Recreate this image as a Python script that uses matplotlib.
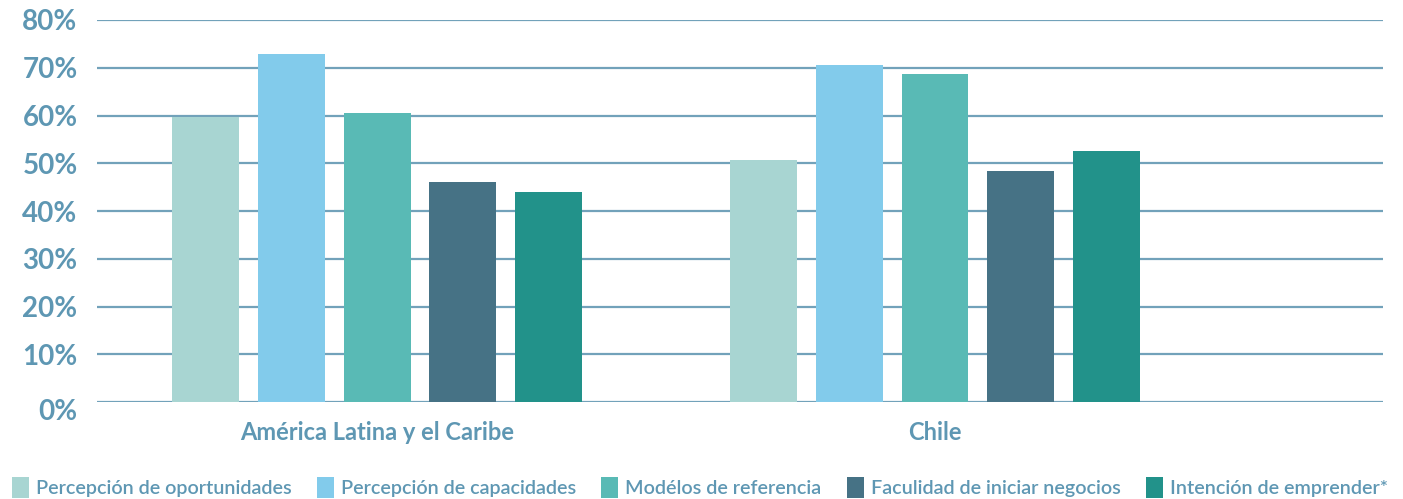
import matplotlib.pyplot as plt
import matplotlib.transforms as mtransforms
from matplotlib.patches import Patch
import numpy as np

regions = ['América Latina y el Caribe', 'Chile']
series = ['Percepción de oportunidades', 'Percepción de capacidades',
          'Modélos de referencia', 'Faculidad de iniciar negocios',
          'Intención de emprender*']
alc = [59.7, 72.9, 60.5, 46.1, 44.0]
chile = [50.7, 70.6, 68.7, 48.4, 52.6]
yticks = [0, 10, 20, 30, 40, 50, 60, 70, 80]

colors = ['#a8d5d2', '#82cbeb', '#59bab5', '#467285', '#22928a']
text_color = '#5e97b3'
grid_color = '#72a2ba'

plt.rcParams['font.family'] = ['Lato', 'DejaVu Sans']

fig = plt.figure(figsize=(14.03, 4.99), dpi=100)
ax = fig.add_axes([97 / 1403, 97 / 499, 1286 / 1403, 382 / 499])

x = np.arange(len(regions))
width = 0.12
step = 0.1537
for i, name in enumerate(series):
    vals = [alc[i], chile[i]]
    ax.bar(x + (i - 2) * step, vals, width, color=colors[i], zorder=3)

ax.set_ylim(0, 80)
ax.set_xlim(-0.502, 1.803)
ax.set_yticks(yticks)
ax.set_yticklabels([f'{t}%' for t in yticks], fontweight='bold')
ax.yaxis.grid(True, color=grid_color, linewidth=1.6, zorder=0)
ax.set_axisbelow(True)
for s in ax.spines.values():
    s.set_visible(False)
ax.tick_params(axis='y', length=0, pad=14, labelsize=20, labelcolor=text_color)
# zero label sits a bit lower
zl = ax.get_yticklabels()[0]
zl.set_transform(zl.get_transform() + mtransforms.ScaledTranslation(0, -7 / 100, fig.dpi_scale_trans))

ax.set_xticks(x)
ax.set_xticklabels(regions, fontweight='bold')
ax.tick_params(axis='x', length=0, pad=14, labelsize=17, labelcolor=text_color)

handles = [Patch(facecolor=c, edgecolor='none') for c in colors]
fig.legend(handles, series, loc='lower left', bbox_to_anchor=(0.0, -0.022),
           ncol=5, frameon=False, labelcolor=text_color,
           prop={'family': ['Lato', 'DejaVu Sans'], 'size': 14.2, 'weight': 'semibold'},
           handlelength=0.85, handleheight=1.25, handletextpad=0.35,
           columnspacing=1.3, borderaxespad=0.2)

fig.savefig('out.png', dpi=100)
